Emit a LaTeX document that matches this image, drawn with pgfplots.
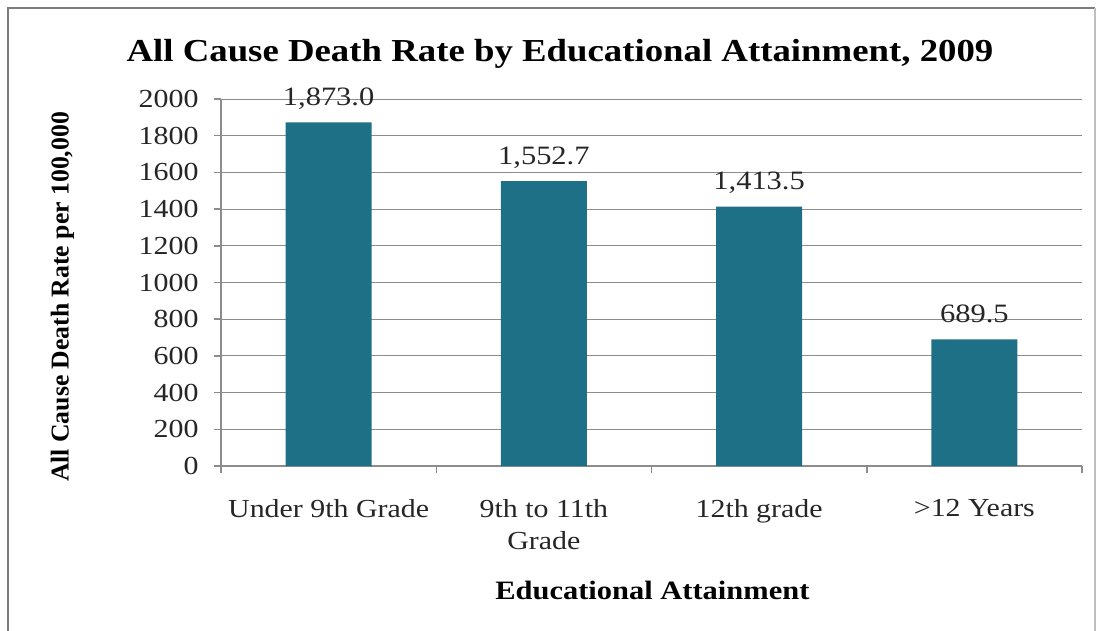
\documentclass[border=0pt]{standalone}
\usepackage{fontspec}
\setmainfont{Liberation Serif}[FakeStretch=1.15]
\newfontfamily\ylfont{Liberation Serif}
\usepackage{pgfplots}
\pgfplotsset{compat=1.18}
\definecolor{barc}{RGB}{30,112,135}
\definecolor{gridc}{RGB}{140,140,140}
\definecolor{txt}{RGB}{38,38,38}
\definecolor{framec}{RGB}{125,125,125}
\begin{document}
\begin{tikzpicture}
\path[use as bounding box] (0,0) rectangle (1101pt,630pt);
\draw[framec, line width=2pt] (8pt,-5pt) -- (8pt,622pt) -- (1095pt,622pt);
\draw[framec!50, line width=1.5pt] (1095pt,622pt) -- (1095pt,-5pt);
\begin{axis}[
  at={(221pt,164pt)}, anchor=south west,
  scale only axis, width=861pt, height=367pt,
  xmin=-0.5, xmax=3.5, ymin=0, ymax=2000,
  ytick={0,200,...,2000},
  xtick={0,1,2,3},
  xticklabels={Under 9th Grade, {9th to 11th\\Grade}, 12th grade, {>12 Years}},
  minor xtick={-0.5,0.5,1.5,2.5,3.5},
  major x tick style={draw=none},
  minor x tick style={gridc, line width=1.5pt},
  major y tick style={gridc, line width=1.5pt},
  major tick length=7pt, minor tick length=7pt,
  tick align=outside,
  axis x line*=bottom, axis y line*=left,
  axis line style={gridc, line width=1.5pt, -},
  ymajorgrids, grid style={gridc, line width=1pt},
  /pgf/number format/assume math mode=true,
  yticklabel style={/pgf/number format/1000 sep={}, font=\fontsize{26}{30}\selectfont, text=txt, xshift=-12pt},
  xticklabel style={align=center, font=\fontsize{26}{32}\selectfont, text=txt, yshift=-23pt},
  title={All Cause Death Rate by Educational Attainment, 2009},
  title style={at={(axis description cs:0.3937,1.0845)}, anchor=base, font=\bfseries\fontsize{32}{36}\selectfont, text=black},
  xlabel={Educational Attainment},
  xlabel style={at={(axis description cs:0.501,-0.365)}, anchor=base, font=\bfseries\fontsize{26.5}{30}\selectfont, text=black},
  ylabel={All Cause Death Rate per 100,000},
  ylabel style={at={(axis description cs:-0.177,0.4605)}, anchor=base, font=\ylfont\bfseries\fontsize{25.7}{30}\selectfont, text=black},
  ybar, bar width=86pt,
  nodes near coords={\pgfmathprintnumber[fixed,fixed zerofill,precision=1,1000 sep={,},assume math mode=true]{\pgfplotspointmeta}},
  nodes near coords style={anchor=base, yshift=17pt, font=\fontsize{26.5}{30}\selectfont, text=txt},
  clip=false,
]
\addplot[fill=barc, draw=none] coordinates {(0,1873.0) (1,1552.7) (2,1413.5) (3,689.5)};
\end{axis}
\end{tikzpicture}
\end{document}
